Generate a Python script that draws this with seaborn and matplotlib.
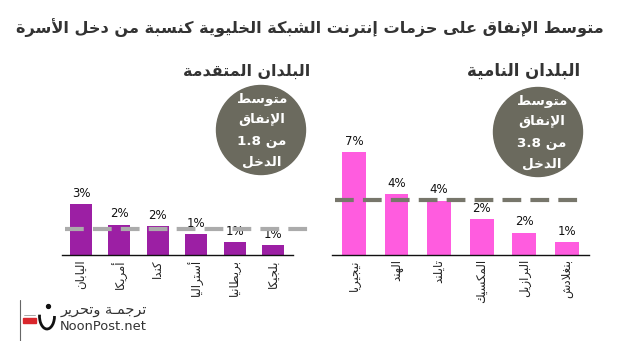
import matplotlib
matplotlib.use("Agg")
import matplotlib.pyplot as plt
from matplotlib.patches import Circle, Arc, Rectangle
import seaborn as sns
import pandas as pd

# ---------------- data ----------------
title_text = "متوسط الإنفاق على حزمات إنترنت الشبكة الخليوية كنسبة من دخل الأسرة"
dev_title = "البلدان المتقدمة"
devg_title = "البلدان النامية"
dev_countries = ["اليابان", "أمريكا", "كندا", "أستراليا", "بريطانيا", "بلجيكا"]
dev_values = [3.5, 2.1, 2.0, 1.45, 0.9, 0.7]
dev_labels = ["3%", "2%", "2%", "1%", "1%", "1%"]
dev_avg = 1.8
devg_countries = ["نيجيريا", "الهند", "تايلند", "المكسيك", "البرازيل", "بنغلادش"]
devg_values = [7.1, 4.2, 3.75, 2.45, 1.55, 0.9]
devg_labels = ["7%", "4%", "4%", "2%", "2%", "1%"]
devg_avg = 3.8

# ---------------- minimal Arabic shaping ----------------
_BASE = {
    0x0621: (0xFE80, 1), 0x0622: (0xFE81, 2), 0x0623: (0xFE83, 2), 0x0624: (0xFE85, 2),
    0x0625: (0xFE87, 2), 0x0626: (0xFE89, 4), 0x0627: (0xFE8D, 2), 0x0628: (0xFE8F, 4),
    0x0629: (0xFE93, 2), 0x062A: (0xFE95, 4), 0x062B: (0xFE99, 4), 0x062C: (0xFE9D, 4),
    0x062D: (0xFEA1, 4), 0x062E: (0xFEA5, 4), 0x062F: (0xFEA9, 2), 0x0630: (0xFEAB, 2),
    0x0631: (0xFEAD, 2), 0x0632: (0xFEAF, 2), 0x0633: (0xFEB1, 4), 0x0634: (0xFEB5, 4),
    0x0635: (0xFEB9, 4), 0x0636: (0xFEBD, 4), 0x0637: (0xFEC1, 4), 0x0638: (0xFEC5, 4),
    0x0639: (0xFEC9, 4), 0x063A: (0xFECD, 4), 0x0641: (0xFED1, 4), 0x0642: (0xFED5, 4),
    0x0643: (0xFED9, 4), 0x0644: (0xFEDD, 4), 0x0645: (0xFEE1, 4), 0x0646: (0xFEE5, 4),
    0x0647: (0xFEE9, 4), 0x0648: (0xFEED, 2), 0x0649: (0xFEEF, 2), 0x064A: (0xFEF1, 4),
}
_LA = {"\u0622": (0xFEF5, 0xFEF6), "\u0623": (0xFEF7, 0xFEF8),
       "\u0625": (0xFEF9, 0xFEFA), "\u0627": (0xFEFB, 0xFEFC)}
TAT = "\u0640"


def _is_ar(c):
    return isinstance(c, tuple) or c == TAT or (len(c) == 1 and ord(c) in _BASE)


def _dual(c):
    if isinstance(c, tuple):
        return False
    if c == TAT:
        return True
    return ord(c) in _BASE and _BASE[ord(c)][1] == 4


def shape(s):
    chars = []
    i = 0
    while i < len(s):
        c = s[i]
        if c == "\u0644" and i + 1 < len(s) and s[i + 1] in _LA:
            chars.append(("LA", s[i + 1]))
            i += 2
        else:
            chars.append(c)
            i += 1
    out = []
    for k, c in enumerate(chars):
        prev = chars[k - 1] if k > 0 else None
        nxt = chars[k + 1] if k + 1 < len(chars) else None
        jp = prev is not None and _dual(prev) and _is_ar(c)
        if isinstance(c, tuple):
            iso, fin = _LA[c[1]]
            out.append(chr(fin if jp else iso))
            continue
        if c == TAT or not _is_ar(c):
            out.append(c)
            continue
        base, n = _BASE[ord(c)]
        jn = nxt is not None and _dual(c) and _is_ar(nxt)
        if n == 1:
            out.append(chr(base))
        elif n == 2:
            out.append(chr(base + 1 if jp else base))
        else:
            if jp and jn:
                out.append(chr(base + 3))
            elif jp:
                out.append(chr(base + 1))
            elif jn:
                out.append(chr(base + 2))
            else:
                out.append(chr(base))
    return "".join(out)[::-1]


# ---------------- figure ----------------
sns.set_theme(style="white")
plt.rcParams["font.family"] = ["DejaVu Sans"]
W, H = 625, 341
fig = plt.figure(figsize=(W / 100, H / 100), dpi=100)
fig.patch.set_facecolor("white")
renderer = fig.canvas.get_renderer()


def fit(t, target_w):
    w = t.get_window_extent(renderer).width
    t.set_fontsize(t.get_fontsize() * target_w / w)
    return t


def px_axes(x0, x1, ybase, ytop):
    return fig.add_axes([x0 / W, 1 - ybase / H, (x1 - x0) / W, (ybase - ytop) / H])


PURPLE = "#9c1fa4"
PINK = "#ff5cdf"
CIRC = "#6b6a5e"
YMAX = 8.0


def panel(ax, countries, values, labels, avg, color, xlim, dash_x, dash_color, width):
    df = pd.DataFrame({"country": [shape(c) for c in countries], "value": values})
    sns.barplot(data=df, x="country", y="value", ax=ax, color=color,
                width=width, saturation=1, edgecolor="none")
    ax.set_xlim(*xlim)
    ax.set_ylim(0, YMAX)
    ax.set_xlabel("")
    ax.set_ylabel("")
    ax.set_yticks([])
    ax.patch.set_alpha(0)
    for s in ["top", "left", "right"]:
        ax.spines[s].set_visible(False)
    ax.spines["bottom"].set_color("#111111")
    ax.spines["bottom"].set_linewidth(1.0)
    ax.tick_params(axis="x", length=0, pad=3, labelsize=8.5, rotation=90,
                   labelcolor="#222222")
    for i, (v, lab) in enumerate(zip(values, labels)):
        ax.annotate(lab, (i, v), xytext=(0, 3), textcoords="offset points",
                    ha="center", va="bottom", fontsize=8.5, color="#111111")
    ax.plot(dash_x, [avg, avg], color=dash_color, lw=3, ls=(0, (4.5, 2.2)),
            clip_on=False, zorder=5, solid_capstyle="butt", dash_capstyle="butt")


ax_l = px_axes(62, 293, 255, 139)
panel(ax_l, dev_countries, dev_values, dev_labels, dev_avg, PURPLE,
      (-0.495, 5.52), [-0.42, 6.04], "#ababab", 0.57)
ax_r = px_axes(332, 589, 255, 139)
panel(ax_r, devg_countries, devg_values, devg_labels, devg_avg, PINK,
      (-0.516, 5.52), [-0.45, 5.30], "#77766b", 0.56)

# ---------------- titles ----------------
t = fig.text(604 / W, 1 - 28 / H, shape(title_text), ha="right", va="center",
             fontsize=13, fontweight="bold", color="#333333")
fit(t, 586)
t = fig.text(310 / W, 1 - 71 / H, shape(dev_title), ha="right", va="center",
             fontsize=12, fontweight="bold", color="#333333")
fit(t, 127)
t = fig.text(580 / W, 1 - 71 / H, shape(devg_title), ha="right", va="center",
             fontsize=12, fontweight="bold", color="#333333")
fit(t, 113)

# ---------------- overlay (circles, logo) ----------------
over = fig.add_axes([0, 0, 1, 1], zorder=10)
over.set_xlim(0, W)
over.set_ylim(H, 0)
over.axis("off")
over.patch.set_alpha(0)


def bubble(cx, cy, avg, dx):
    over.add_patch(Circle((cx, cy), 44.5, color=CIRC, zorder=1))
    lines = [shape("متوسط"), shape("الإنفاق"), f"{avg} " + shape("من"), shape("الدخل")]
    ys = [cy - 31, cy - 10, cy + 12, cy + 32]
    first = over.text(cx + dx, ys[0], lines[0], ha="center", va="center",
                      color="white", fontsize=10, fontweight="bold", zorder=2)
    fit(first, 50)
    fs = first.get_fontsize()
    for tx, y in zip(lines[1:], ys[1:]):
        over.text(cx + dx, y, tx, ha="center", va="center", color="white",
                  fontsize=fs, fontweight="bold", zorder=2)


bubble(261, 130, dev_avg, 1)
bubble(538, 132, devg_avg, 4)

# logo
over.plot([20, 20], [300, 341], color="#666666", lw=0.8)
over.add_patch(Rectangle((23, 318), 13, 5, color="#d9262c"))
over.plot([24, 35], [315, 315], color="#999999", lw=0.6)
over.add_patch(Arc((47, 316), 15, 26, theta1=0, theta2=190, color="#111111", lw=2.0))
over.plot([48], [306], marker="o", color="#111111", ms=2.8)
t = over.text(147, 310, shape("ترجمـة وتحرير"), ha="right", va="center",
              fontsize=9.5, color="#333333")
fit(t, 87)
t = over.text(60, 327, "NoonPost.net", ha="left", va="center",
              fontsize=10.5, color="#333333")
fit(t, 87)

fig.savefig("out.png", dpi=100, facecolor="white")
